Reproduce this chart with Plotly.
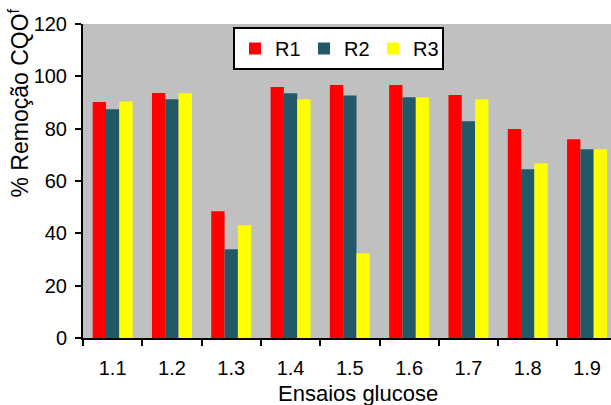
import plotly.graph_objects as go

# Glucose assay runs and COD removal (%) for each reactor
ensaios = ["1.1", "1.2", "1.3", "1.4", "1.5", "1.6", "1.7", "1.8", "1.9"]
r1 = [90.2, 93.6, 48.4, 95.9, 96.7, 96.7, 92.9, 79.9, 76.0]
r2 = [87.4, 91.2, 33.9, 93.5, 92.7, 92.0, 82.8, 64.5, 72.1]
r3 = [90.4, 93.5, 43.1, 91.2, 32.4, 92.0, 91.2, 66.8, 72.1]
y_ticks = [0, 20, 40, 60, 80, 100, 120]

FONT = "Arial, Liberation Sans, sans-serif"

fig = go.Figure()
for name, vals, color in [("R1", r1, "#FF0000"), ("R2", r2, "#215968"), ("R3", r3, "#FFFF00")]:
    fig.add_trace(go.Bar(x=ensaios, y=vals, name=name, marker=dict(color=color, line=dict(width=0))))

W, H = 611, 405
L, R, T, B = 83, 0, 24, 67
pw = W - L - R
ph = H - T - B

fig.update_layout(
    width=W, height=H,
    margin=dict(l=L, r=R, t=T, b=B),
    paper_bgcolor="white",
    plot_bgcolor="#C0C0C0",
    barmode="group",
    bargap=0.326,
    bargroupgap=0,
    font=dict(family=FONT, size=20, color="black"),
    showlegend=True,
    legend=dict(
        orientation="h",
        x=(233 - L) / pw, y=(H - B - 27) / ph,
        xanchor="left", yanchor="top",
        bgcolor="white", bordercolor="black", borderwidth=2,
        font=dict(family=FONT, size=20),
        entrywidth=24, entrywidthmode="pixels",
    ),
    xaxis=dict(
        type="category",
        range=[-0.5, -0.5 + pw / 59.3],
        showline=True, linecolor="black", linewidth=2,
        ticks="outside", ticklen=6, tickwidth=2, tickcolor="black",
        tickson="boundaries",
        showgrid=False, zeroline=False,
        ticklabelstandoff=11,
    ),
    yaxis=dict(
        range=[0, 120],
        tickvals=y_ticks,
        showline=True, linecolor="black", linewidth=2,
        ticks="outside", ticklen=6, tickwidth=2, tickcolor="black",
        showgrid=False, zeroline=False,
        ticklabelstandoff=4,
    ),
)

fig.add_annotation(
    text="% Remoção CQO<sup>f</sup>",
    xref="paper", yref="paper",
    x=(18.5 - L) / pw, y=(H - B - 103) / ph,
    xanchor="center", yanchor="middle",
    textangle=-90, showarrow=False,
    font=dict(family=FONT, size=23),
)
fig.add_annotation(
    text="Ensaios glucose",
    xref="paper", yref="paper",
    x=(358 - L) / pw, y=(H - B - 393) / ph,
    xanchor="center", yanchor="middle",
    showarrow=False,
    font=dict(family=FONT, size=22),
)

fig.write_html("out.html")
